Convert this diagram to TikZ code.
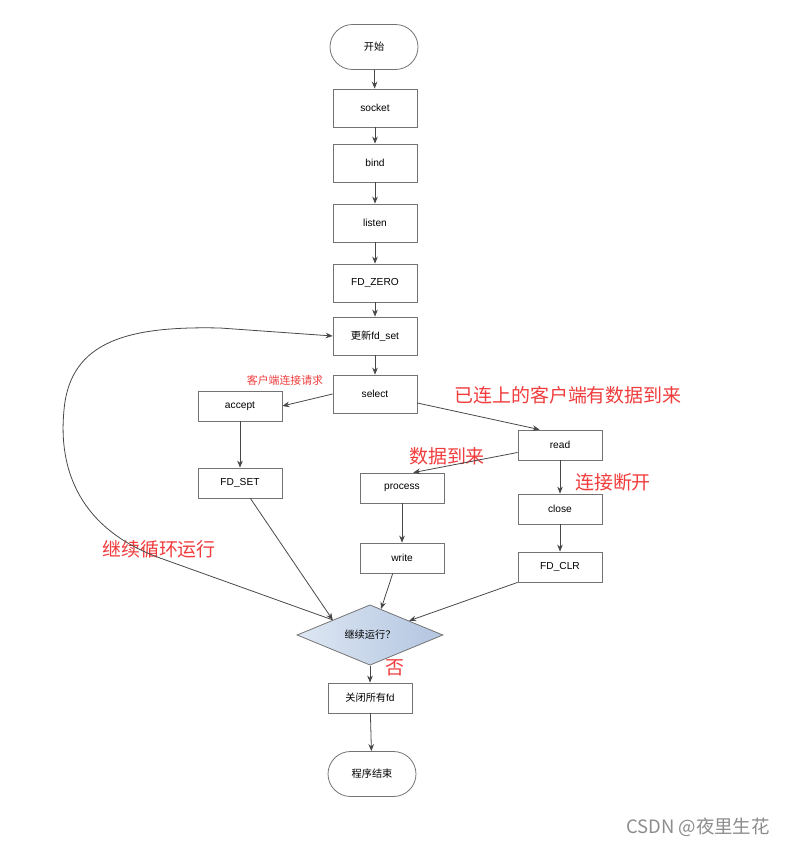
\documentclass[tikz,border=0pt]{standalone}
\usepackage{fontspec}
\setmainfont{Liberation Sans}
\newfontfamily\cjk{Noto Sans CJK SC}
\usepackage{tikz}
\usetikzlibrary{shapes,arrows.meta,positioning}
\definecolor{notered}{HTML}{F03C3C}
\definecolor{dleft}{HTML}{DEE7F3}
\definecolor{dright}{HTML}{B2C5E0}
\tikzstyle{line} = [draw=black!72, line width=0.45pt, -{Stealth[length=4pt,width=3.2pt]}]
\tikzstyle{wblock} = [rectangle, draw=black!55, line width=0.45pt, fill=white,
  minimum width=1.68cm, minimum height=0.6cm, inner sep=0pt, font=\fontsize{5.8}{7}\selectfont]
\tikzstyle{tblock} = [wblock, minimum height=0.76cm]
\tikzstyle{term} = [rounded rectangle, draw=black!55, line width=0.45pt, fill=white,
  minimum width=1.76cm, minimum height=0.9cm, inner sep=0pt, font=\fontsize{5.8}{7}\selectfont\cjk]
\tikzstyle{decision} = [diamond, draw=black!55, line width=0.45pt, left color=dleft, right color=dright,
  minimum width=2.92cm, minimum height=1.1cm, inner sep=0pt, font=\fontsize{5.8}{7}\selectfont\cjk]

\begin{document}
\begin{tikzpicture}[x=0.02cm, y=-0.02cm]

    \tikzstyle{arr} = [line];
    \tikzstyle{redtag} = [text=notered, inner sep=0pt, font=\fontsize{10.8}{12}\selectfont\cjk];

    \useasboundingbox (0,0) rectangle (789,847);

    % main column
    \node [term] at (374,47) (start) {开始};
    \node [tblock] at (375,108) (socket) {socket};
    \node [tblock] at (375,163) (bind) {bind};
    \node [tblock] at (375,223) (listen) {listen};
    \node [tblock] at (375,283) (fdzero) {FD\_ZERO};
    \node [tblock] at (375,336) (upd) {{\cjk 更新}fd\_set};
    \node [tblock] at (375,394) (select) {select};

    % new client
    \node [wblock] at (240,406) (accept) {accept};
    \node [wblock] at (240,483) (fdset) {FD\_SET};

    % data / disconnect
    \node [wblock] at (560,445) (read) {read};
    \node [wblock] at (402,488) (process) {process};
    \node [wblock] at (402,558) (write) {write};
    \node [wblock] at (560,509) (close) {close};
    \node [wblock] at (560,567) (fdclr) {FD\_CLR};

    \node [decision] at (370,635) (goon) {继续运行？};
    \node [wblock] at (370,698) (closeall) {{\cjk 关闭所有}fd};
    \node [term] at (372,774) (stop) {程序结束};

    % labels
    \node [redtag, font=\fontsize{6.2}{7}\selectfont\cjk] at (285,380) (lnew) {客户端连接请求};
    \node [redtag] at (568,395) (ldata) {已连上的客户端有数据到来};
    \node [redtag] at (447,456) (lcome) {数据到来};
    \node [redtag] at (613,482) (lcut) {连接断开};
    \node [redtag] at (159,549) (lloop) {继续循环运行};
    \node [redtag] at (395,668) (lno) {否};

    \node [text=black!45, inner sep=0pt, font=\fontsize{10.5}{12}\selectfont\cjk] at (698,827) (mark) {CSDN @夜里生花};

    \draw [arr] (start) -- (socket);
    \draw [arr] (socket) -- (bind);
    \draw [arr] (bind) -- (listen);
    \draw [arr] (listen) -- (fdzero);
    \draw [arr] (fdzero) -- (upd);
    \draw [arr] (upd) -- (select);

    \draw [arr] (select.west) -- (accept.east);
    \draw [arr] (accept) -- (fdset);
    \draw [arr] (select.-12) -- (read.143);
    \draw [arr] (read.190) -- (process.54);
    \draw [arr] (read) -- (close);
    \draw [arr] (process) -- (write);
    \draw [arr] (close) -- (fdclr);

    \draw [arr] (fdset.-56) -- (goon.158);
    \draw [arr] (write.-121) -- (goon.67);
    \draw [arr] (fdclr.south west) -- (goon.20);

    \draw [arr] (goon.158) -- (160,558) .. controls (80,529) and (58,470) .. (64,410)
        .. controls (70,340) and (130,326) .. (220,328) -- (upd.west);

    \draw [arr] (goon) -- (closeall);
    \draw [arr] (closeall) -- (stop);

\end{tikzpicture}
\end{document}
